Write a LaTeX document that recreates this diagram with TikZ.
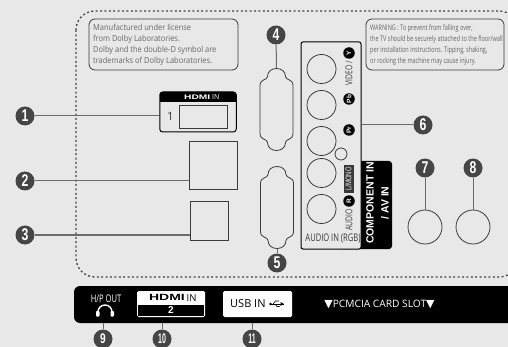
\documentclass[tikz,border=0pt]{standalone}
\usepackage{fontspec}
\usetikzlibrary{calc}
\usetikzlibrary{positioning}
\setmainfont{Open Sans}
\newfontfamily\labelfont{Open Sans}
\newfontfamily\notefont[FakeStretch=0.9]{Open Sans}
\newfontfamily\narrowfont[FakeStretch=0.72]{Open Sans}
\newfontfamily\logofont[FakeStretch=1.55]{Liberation Sans Bold}
\newfontfamily\numfont[FakeStretch=0.72]{Liberation Sans Bold}
\newfontfamily\numtwofont[FakeStretch=0.5]{Liberation Sans Bold}
\newfontfamily\boldfont{Liberation Sans Bold}
\newfontfamily\markfont{DejaVu Sans}
\definecolor{panel}{HTML}{E8E8E8}
\definecolor{ink}{HTML}{3A3A3A}
\definecolor{bullet}{HTML}{454545}
\definecolor{notetext}{HTML}{666666}
\tikzset{
	vga/.pic={
		\draw[port line] (0,-41) .. controls (5,-41) and (9,-38) .. (9,-33)
			.. controls (9,-29) and (16.5,-31) .. (16.5,-24) -- (16.5,24)
			.. controls (16.5,31) and (9,29) .. (9,33)
			.. controls (9,38) and (5,41) .. (0,41)
			.. controls (-5,41) and (-9,38) .. (-9,33)
			.. controls (-9,29) and (-16.5,31) .. (-16.5,24) -- (-16.5,-24)
			.. controls (-16.5,-31) and (-9,-29) .. (-9,-33)
			.. controls (-9,-38) and (-5,-41) .. (0,-41) -- cycle;
		\coordinate (-top) at (0,-41);
		\coordinate (-bottom) at (0,41);
	}
}
\begin{document}
\begin{tikzpicture}[x=1pt,y=-1pt,
	  port line/.style={draw=ink,line width=0.8pt},
	  main node/.style={circle,fill=bullet,text=white,inner sep=0pt,minimum size=19pt,font=\numfont\fontsize{17}{17}\selectfont},
	  low node/.style={main node,font=\numfont\fontsize{14}{14}\selectfont},
	  wide node/.style={main node,font=\numtwofont\fontsize{14}{14}\selectfont},
	  port node/.style={rectangle,port line,inner sep=0pt},
	  jack node/.style={circle,port line,inner sep=0pt},
	  note node/.style={rectangle,rounded corners=6pt,port line,minimum width=149pt,minimum height=51pt,inner sep=0pt},
	  note text/.style={anchor=west,align=left,inner sep=0pt,text=notetext},
	  badge node/.style={circle,fill=black,text=white,inner sep=0pt,minimum size=11.5pt,rotate=90,font=\boldfont\fontsize{6.5}{6.5}\selectfont},
	  side text/.style={rotate=90,inner sep=0pt,text=ink,font=\narrowfont\fontsize{9.5}{9.5}\selectfont},
	  lead/.style={draw=bullet!80,line width=1pt}]
	
	 \useasboundingbox (0,0) rectangle (508,347);
	 \clip (0,0) rectangle (508,347);
	 \fill[panel] (0,0) rectangle (508,347);
	 \draw[bullet,line width=1.3pt,dash pattern=on 2pt off 2.4pt,rounded corners=19pt] (76,11) rectangle (518,277);
	
	 % lower bar
	 \node[fill=black,rounded corners=6pt,inner sep=0pt,minimum width=456pt,minimum height=37pt] (bar) at (302,304.5) {};
	 \node[port node,draw=none,minimum width=68pt,minimum height=26pt,fill=white,rounded corners=1.5pt] (hdmitwo) at (171,304) {};
	 \fill[black] (138,304.5) rectangle (204,316.2);
	 \node[port node,draw=none,minimum width=69pt,minimum height=26pt,fill=white,rounded corners=1.5pt] (usbin) at (257.5,304) {};
	 \node[inner sep=0pt,text=white,font=\narrowfont\fontsize{10.5}{10.5}\selectfont] (hpout) at (106,298.5) {H/P OUT};
	 \draw[white,line width=1.4pt] (98,312) arc (180:360:7);
	 \fill[white,rounded corners=0.8pt] (96,311) rectangle (99.5,316.5);
	 \fill[white,rounded corners=0.8pt] (110.5,311) rectangle (114,316.5);
	 \node[inner sep=0pt,anchor=east,font=\logofont\fontsize{9}{9}\selectfont] (hdmitext) at (185,297.8) {HDMI};
	 \node[inner sep=0pt,anchor=west,font=\labelfont\fontsize{9.5}{9.5}\selectfont] (hdmiin) at (186.5,297.8) {IN};
	 \node[inner sep=0pt,text=white,font=\boldfont\fontsize{10}{10}\selectfont] (hdminum) at (171,310.5) {2};
	 \node[inner sep=0pt,anchor=west,font=\labelfont\fontsize{11}{11}\selectfont] (usbtext) at (230,304) {USB IN};
	 \draw[line width=0.8pt] (270,304) -- (284,304);
	 \fill (270.5,304) circle (1.3pt);
	 \fill (284,304) -- (280.5,302) -- (280.5,306) -- cycle;
	 \draw[line width=0.6pt] (273,304) -- (275.5,301) -- (279,301);
	 \draw[line width=0.6pt] (275,304) -- (277,306.5) -- (279.5,306.5);
	 \node[inner sep=0pt,text=white,font=\labelfont\fontsize{10.2}{10.2}\selectfont] (pcmcia) at (379.5,304.5) {{\markfont\fontsize{11}{11}\selectfont ▼}PCMCIA CARD SLOT{\markfont\fontsize{11}{11}\selectfont ▼}};
	
	 % notes
	 \node[note node] (dolby) at (163.5,44.5) {};
	 \node[note text,font=\notefont\fontsize{8.3}{10.8}\selectfont] (dolbytext) at (93,44.8) {Manufactured under license\\from Dolby Laboratories.\\Dolby and the double-D symbol are\\trademarks of Dolby Laboratories.};
	 \node[note node,minimum width=138pt] (warning) at (435,44.5) {};
	 \node[note text,font=\narrowfont\fontsize{7.7}{10.8}\selectfont] (warningtext) at (370,44.8) {WARNING : To prevent from falling over,\\the TV should be securely attached to the floor/wall\\per installation instructions. Tipping, shaking,\\or rocking the machine may cause injury.};
	
	 % left side ports
	 \node[port node,minimum width=76.5pt,minimum height=40pt,rounded corners=3pt,line width=1pt,draw=black] (hdmione) at (198,112) {};
	 \fill[black,rounded corners=3pt] (160,92) rectangle (236.5,102);
	 \fill[black] (160,98) rectangle (236.5,102);
	 \node[inner sep=0pt,anchor=east,text=white,font=\logofont\fontsize{6.6}{6.6}\selectfont] (hdmilogo) at (210.5,97.5) {HDMI};
	 \node[inner sep=0pt,anchor=west,text=white,font=\labelfont\fontsize{7}{7}\selectfont] (hdmilabel) at (212,97.5) {IN};
	 \node[inner sep=0pt,text=ink,font=\labelfont\fontsize{11.5}{11.5}\selectfont] (hdminumber) at (170.5,116) {1};
	 \node[port node,minimum width=48pt,minimum height=23pt] (hdmislot) at (203,117) {};
	 \node[port node,minimum width=48pt,minimum height=48pt] (lanport) at (213,165) {};
	 \node[port node,minimum width=38pt,minimum height=39pt] (optport) at (209,220.5) {};
	 \pic (vgaup) at (276.5,109.5) {vga};
	 \pic (vgadown) at (277,207.5) {vga};
	
	 % component panel
	 \fill[black,rounded corners=3pt] (340,161) rectangle (392,249);
	 \node[port node,fill=panel,minimum width=60pt,minimum height=207pt,rounded corners=2pt,line width=1pt,draw=black] (avpanel) at (331,145.5) {};
	 \node[inner sep=0pt,rotate=90,text=white,align=center,font=\boldfont\fontsize{10.5}{15}\selectfont] (avlabel) at (377.5,203) {COMPONENT IN\\/ AV IN};
	 \foreach \name/\ypos in {jacka/69,jackb/105,jackc/141,jackd/173,jacke/209}
	    \node[jack node,minimum size=29pt] (\name) at (321.5,\ypos) {};
	 \node[jack node,minimum size=12pt] (jacksmall) at (341,154) {};
	 \node[badge node] (badgey) at (349,53) {Y};
	 \node[badge node] (badgeb) at (349,99) {Pb};
	 \node[badge node] (badger) at (349,130) {Pr};
	 \node[badge node] (badgeaudio) at (349,201) {R};
	 \node[side text] (videotext) at (349,73) {VIDEO /};
	 \node[rotate=90,inner sep=1pt,fill=ink,text=white,minimum height=10pt,minimum width=28pt,font=\narrowfont\fontsize{8}{8}\selectfont] (monotext) at (348.5,179) {L/MONO};
	 \node[side text] (audiotext) at (349,220) {AUDIO};
	 \node[inner sep=0pt,text=ink,font=\narrowfont\fontsize{10.5}{10.5}\selectfont] (rgbtext) at (333,238.5) {AUDIO IN (RGB)};
	 \node[jack node,minimum size=34pt] (jackseven) at (425,227) {};
	 \node[jack node,minimum size=34pt] (jackeight) at (473,227) {};
	
	 % numbered bullets
	 \node[main node] (one) at (25,116) {1};
	 \node[main node] (two) at (25,181) {2};
	 \node[main node] (three) at (25,235) {3};
	 \node[main node] (four) at (276,35) {4};
	 \node[main node] (five) at (277,263) {5};
	 \node[main node] (six) at (423,125) {6};
	 \node[main node] (seven) at (425,168) {7};
	 \node[main node] (eight) at (473,168) {8};
	 \node[low node] (nine) at (103,339) {9};
	 \node[wide node] (ten) at (162,339) {10};
	 \node[wide node] (eleven) at (252,339) {11};
	 \path[lead]
	    (one) edge (one -| hdmione.west)
	    (two) edge (two -| lanport.west)
	    (three) edge (three -| optport.west)
	    (four) edge (vgaup-top)
	    (five) edge (vgadown-bottom)
	    (six) edge (six -| avpanel.east)
	    (seven) edge (jackseven)
	    (eight) edge (jackeight)
	    (nine) edge (nine |- bar.south)
	    (ten) edge (ten |- bar.south)
	    (eleven) edge (eleven |- bar.south)
;
	\end{tikzpicture}
\end{document}
